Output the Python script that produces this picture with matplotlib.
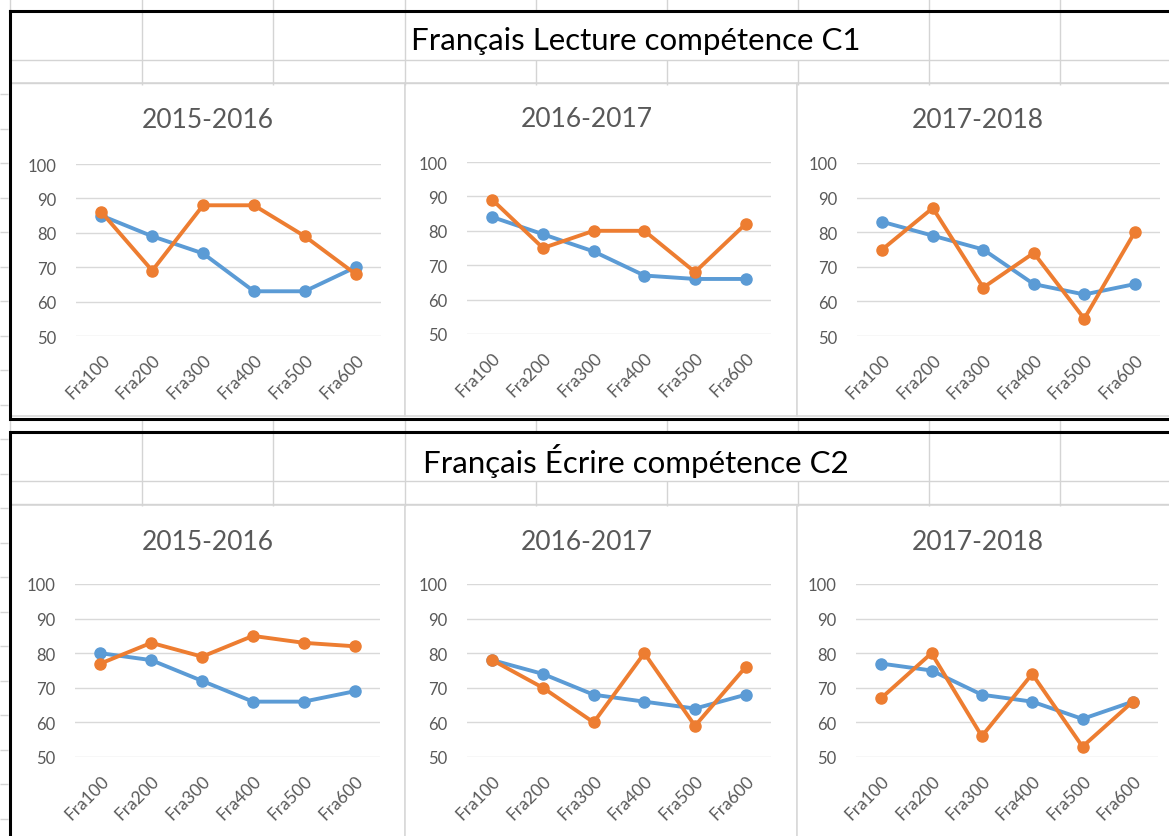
import matplotlib
matplotlib.use("Agg")
import matplotlib.pyplot as plt
from matplotlib.patches import Rectangle

plt.rcParams['font.family'] = ['Lato', 'DejaVu Sans']

# Data
categories = ["Fra100", "Fra200", "Fra300", "Fra400", "Fra500", "Fra600"]
years = ["2015-2016", "2016-2017", "2017-2018"]
section_titles = ["Français Lecture compétence C1", "Français Écrire compétence C2"]

c1_blue = [
    [85, 79, 74, 63, 63, 70],
    [84, 79, 74, 67, 66, 66],
    [83, 79, 75, 65, 62, 65],
]
c1_orange = [
    [86, 69, 88, 88, 79, 68],
    [89, 75, 80, 80, 68, 82],
    [75, 87, 64, 74, 55, 80],
]
c2_blue = [
    [80, 78, 72, 66, 66, 69],
    [78, 74, 68, 66, 64, 68],
    [77, 75, 68, 66, 61, 66],
]
c2_orange = [
    [77, 83, 79, 85, 83, 82],
    [78, 70, 60, 80, 59, 76],
    [67, 80, 56, 74, 53, 66],
]
y_ticks = [50, 60, 70, 80, 90, 100]

BLUE = "#5B9BD5"
ORANGE = "#ED7D31"
GRAY_TXT = "#595959"
GRID = "#D9D9D9"
CELL = "#D4D4D4"

W, H = 1169, 837
fig = plt.figure(figsize=(W / 100, H / 100), dpi=100)
fig.patch.set_facecolor("white")

# background "spreadsheet" layer in pixel coordinates
bg = fig.add_axes([0, 0, 1, 1])
bg.set_xlim(0, W)
bg.set_ylim(H, 0)
bg.axis("off")

cols = [10, 142, 273, 405, 536, 667, 798, 929, 1060]

def hline(y, x0=0, x1=W, **kw):
    bg.plot([x0, x1], [y, y], **kw)

def vline(x, y0, y1, **kw):
    bg.plot([x, x], [y0, y1], **kw)

cell_kw = dict(color=CELL, lw=1, solid_capstyle="butt")

# strip above top section and between sections
for c in cols:
    vline(c, 0, 12, **cell_kw)
    vline(c, 420, 433, **cell_kw)

for top in [12, 433]:
    r1, r2 = top + 49, top + 72
    # title row: merged cell between 405 and 929
    for c in cols:
        if c in (536, 667, 798):
            continue
        vline(c, top, r1, **cell_kw)
        vline(c, r1, r2 + 2, **cell_kw)
    for c in (536, 667, 798):
        vline(c, r1, r2 + 2, **cell_kw)
    hline(r1, 10, W, **cell_kw)
    hline(r2, 10, W, **cell_kw)

# left margin row marks
y = 95
while y < H:
    hline(y, 0, 8, **cell_kw)
    y += 34.5

# chart boxes (px): x0, x1, y0, y1
boxes_top = [(10, 405, 84, 417), (405, 797, 84, 417), (797, 1175, 84, 417)]
boxes_bot = [(10, 405, 506, 845), (405, 797, 506, 845), (797, 1175, 506, 845)]
for (x0, x1, y0, y1) in boxes_top + boxes_bot:
    bg.add_patch(Rectangle((x0, y0), x1 - x0, y1 - y0, facecolor="white",
                           edgecolor=GRID, lw=1.2))

# thick section borders
bg.plot([10, W + 5, W + 5, 10, 10], [12, 12, 420, 420, 12], color="black", lw=2.2,
        solid_joinstyle="miter")
bg.plot([W + 5, 10, 10], [433, 433, H + 5], color="black", lw=2.2,
        solid_joinstyle="miter")

# section titles
bg.text(636, 41, section_titles[0], ha="center", va="center", fontsize=22.5, color="black")
bg.text(636, 461, section_titles[1], ha="center", va="center", fontsize=22.5, color="black")

# plot areas (px): x0, x1, y_top(100), y_bottom(50)
areas_top = [(76, 381, 165, 337), (467, 771, 163, 335), (857, 1160, 164, 337)]
areas_bot = [(75, 380, 585, 758), (467, 771, 585, 758), (856, 1158, 585, 758)]
title_pos_top = [(208, 120), (587, 119), (978, 120)]
title_pos_bot = [(208, 542), (587, 542), (978, 542)]


def draw_chart(area, blue, orange, title, tpos):
    x0, x1, yt, yb = area
    ax = fig.add_axes([x0 / W, 1 - yb / H, (x1 - x0) / W, (yb - yt) / H])
    ax.patch.set_alpha(0)
    xs = range(len(categories))
    ax.plot(xs, blue, color=BLUE, lw=2.8, marker="o", ms=8, clip_on=False, zorder=3)
    ax.plot(xs, orange, color=ORANGE, lw=2.8, marker="o", ms=8, clip_on=False, zorder=4)
    ax.set_xlim(-0.5, len(categories) - 0.5)
    ax.set_ylim(50, 100)
    ax.set_yticks(y_ticks)
    ax.grid(axis="y", color=GRID, lw=1)
    ax.set_axisbelow(True)
    for s in ax.spines.values():
        s.set_visible(False)
    ax.set_xticks(list(xs))
    ax.set_xticklabels(categories, rotation=45, ha="right", rotation_mode="anchor",
                       fontsize=12.5, color=GRAY_TXT)
    ax.tick_params(axis="x", length=0, pad=11)
    ax.tick_params(axis="y", length=0, pad=14, labelsize=12, labelcolor=GRAY_TXT)
    bg.text(tpos[0], tpos[1], title, ha="center", va="center", fontsize=19, color=GRAY_TXT)


for i in range(3):
    draw_chart(areas_top[i], c1_blue[i], c1_orange[i], years[i], title_pos_top[i])
    draw_chart(areas_bot[i], c2_blue[i], c2_orange[i], years[i], title_pos_bot[i])

fig.savefig("out.png", dpi=100)
